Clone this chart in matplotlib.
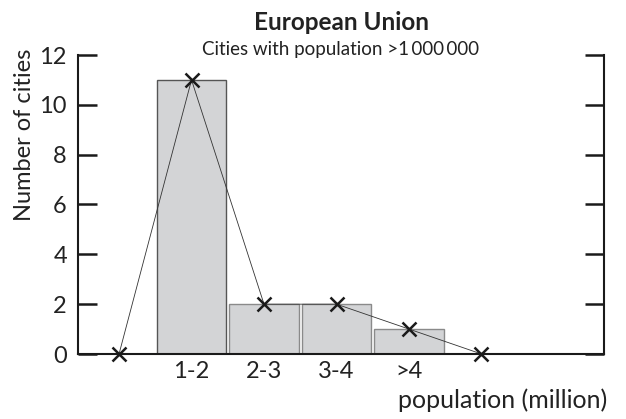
import matplotlib
matplotlib.use("Agg")
import matplotlib.pyplot as plt

# Histogram of EU cities with more than one million inhabitants
categories = ["1-2", "2-3", "3-4", ">4"]
counts = [11, 2, 2, 1]

# frequency polygon closes on zero at both ends
poly_x = [0, 1, 2, 3, 4, 5]
poly_y = [0, 11, 2, 2, 1, 0]

plt.rcParams['font.family'] = ['Lato', 'DejaVu Sans']

fig = plt.figure(figsize=(6.26, 4.19), dpi=100)
ax = fig.add_axes([78 / 626, 1 - 354 / 419, (604 - 78) / 626, (354 - 55) / 419])

bar_pos = [1, 2, 3, 4]
edges = ["#555555", "#8a8a8a", "#8a8a8a", "#8a8a8a"]
ax.bar(bar_pos, counts, width=0.965, color="#d3d4d6", edgecolor=edges, linewidth=1.0, zorder=1)
ax.plot(poly_x, poly_y, color="#333333", linewidth=0.6, zorder=2)
ax.plot(poly_x, poly_y, linestyle="none", marker="x", markersize=10,
        markeredgewidth=1.8, color="#1a1a1a", zorder=3, clip_on=False)

ax.set_xlim(-0.566, 6.69)
ax.set_ylim(0, 12)
ax.set_xticks(bar_pos)
ax.set_xticklabels(categories)
ax.set_yticks(range(0, 13, 2))

ax.spines['top'].set_visible(False)
for s in ['left', 'right', 'bottom']:
    ax.spines[s].set_linewidth(1.5)
    ax.spines[s].set_color("#1a1a1a")

ax.tick_params(axis='y', direction='in', length=14, width=1.8, color="#1a1a1a",
               left=True, right=True, labelsize=17, pad=8, labelcolor="#222222")
ax.tick_params(axis='x', length=0, labelsize=17, pad=5, labelcolor="#222222")

fig.text(25 / 626, 1 - 135 / 419, "Number of cities", rotation=90, ha='center', va='center',
         fontsize=17, color="#222222")
fig.text(607 / 626, 1 - 400 / 419, "population (million)", ha='right', va='center',
         fontsize=18, color="#222222")

fig.text(341 / 626, 1 - 22 / 419, "European Union", ha='center', va='center',
         fontsize=17.5, fontweight='bold', color="#222222")
fig.text(341 / 626, 1 - 49 / 419, "Cities with population >1\u2009000\u2009000", ha='center',
         va='center', fontsize=13.5, color="#222222")

fig.savefig("out.png", dpi=100)
